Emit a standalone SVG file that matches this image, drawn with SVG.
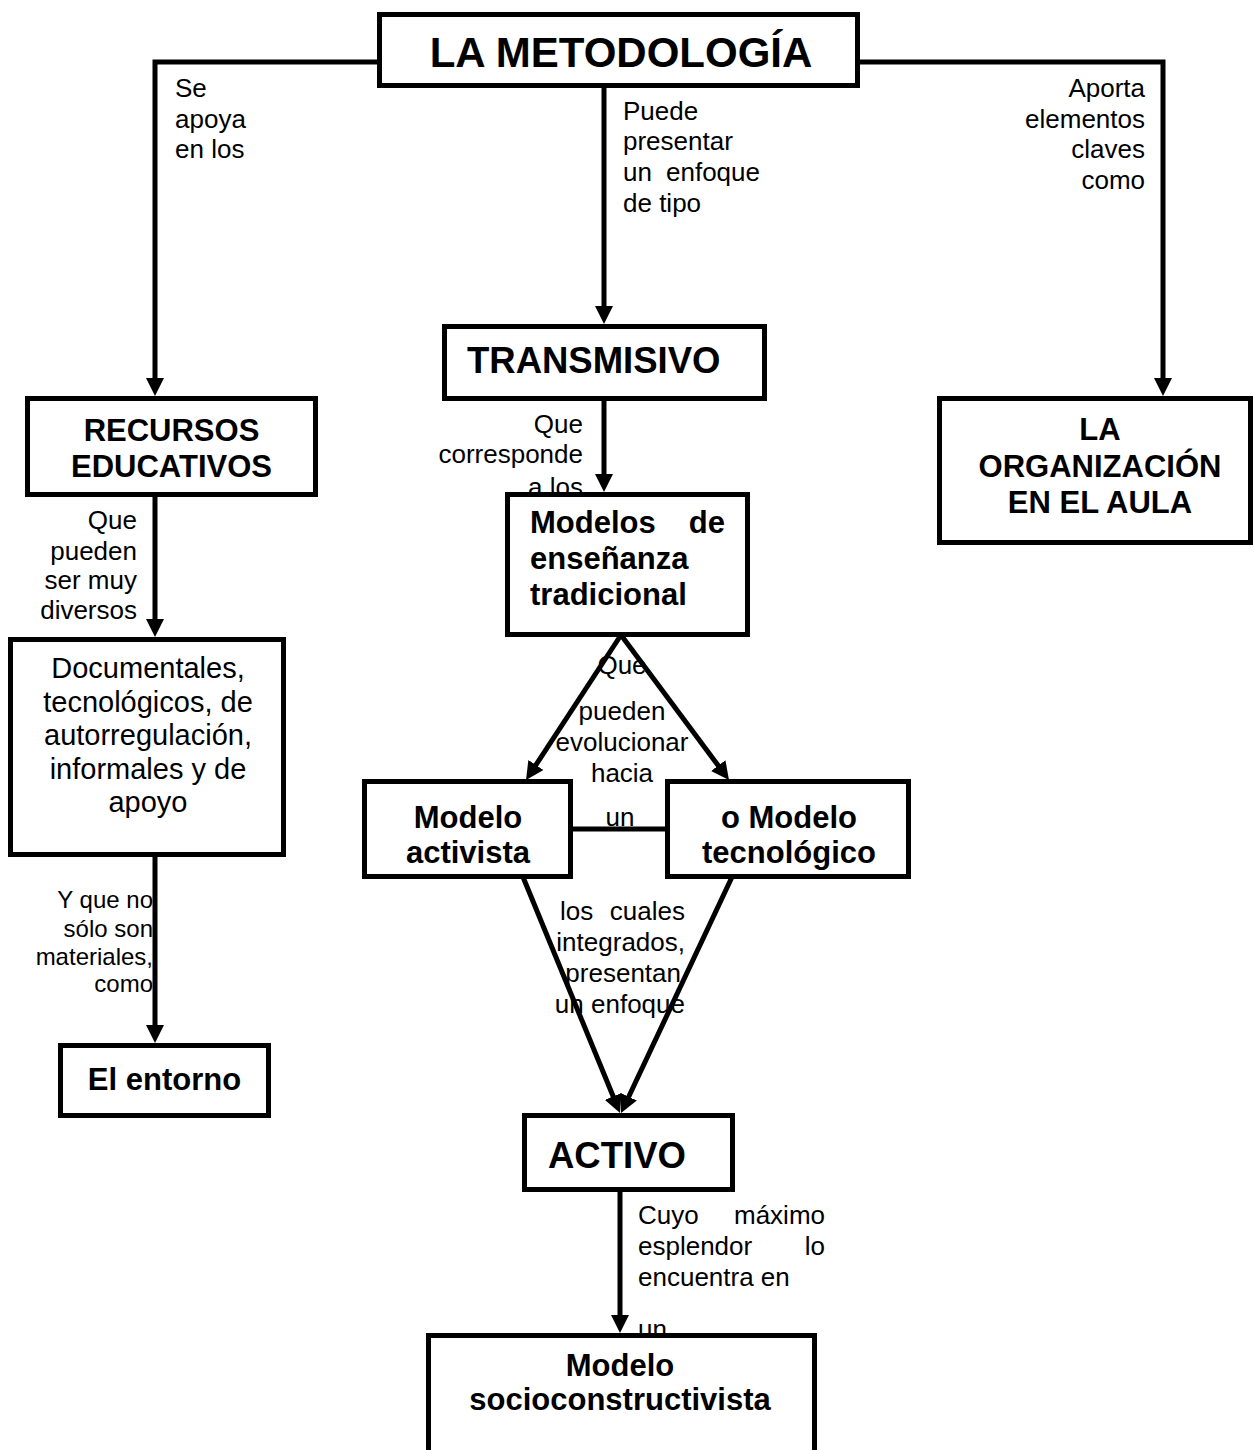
<svg xmlns="http://www.w3.org/2000/svg" width="1254" height="1450" viewBox="0 0 1254 1450">
<style>
.bx{fill:#fff;stroke:#000;stroke-width:5}
.ln{fill:none;stroke:#000;stroke-width:5;stroke-linejoin:miter}
.ar{marker-end:url(#ah)}
.lb{font-family:"Liberation Sans",Arial,sans-serif;font-size:26px;fill:#000}
.lb24{font-family:"Liberation Sans",Arial,sans-serif;font-size:24px;fill:#000}
.nt{font-family:"Liberation Sans",Arial,sans-serif;font-size:31px;font-weight:bold;fill:#000}
.nr{font-family:"Liberation Sans",Arial,sans-serif;font-size:29px;fill:#000}
.big{font-family:"Liberation Sans",Arial,sans-serif;font-size:36.5px;font-weight:bold;fill:#000}
.ttl{font-family:"Liberation Sans",Arial,sans-serif;font-size:42px;font-weight:bold;fill:#000}
.m{text-anchor:middle}
.e{text-anchor:end}
</style>
<defs>
<marker id="ah" markerUnits="userSpaceOnUse" markerWidth="18" markerHeight="18" viewBox="0 0 18 18" refX="8" refY="9" orient="auto">
<path d="M0,0 L18,9 L0,18 z" fill="#000"/>
</marker>
</defs>
<rect width="1254" height="1450" fill="#fff"/>
<g id="labels">
<text class="lb" x="175" y="97">Se</text>
<text class="lb" x="175" y="128">apoya</text>
<text class="lb" x="175" y="158">en los</text>
<text class="lb" x="623" y="120">Puede</text>
<text class="lb" x="623" y="150">presentar</text>
<text class="lb" x="623" y="181">un</text>
<text class="lb e" x="760" y="181">enfoque</text>
<text class="lb" x="623" y="212">de tipo</text>
<text class="lb e" x="1145" y="97">Aporta</text>
<text class="lb e" x="1145" y="128">elementos</text>
<text class="lb e" x="1145" y="158">claves</text>
<text class="lb e" x="1145" y="189">como</text>
<text class="lb e" x="137" y="529">Que</text>
<text class="lb e" x="137" y="560">pueden</text>
<text class="lb e" x="137" y="589">ser muy</text>
<text class="lb e" x="137" y="619">diversos</text>
<text class="lb24 e" x="153" y="908">Y que no</text>
<text class="lb24 e" x="153" y="937">sólo son</text>
<text class="lb24 e" x="153" y="965">materiales,</text>
<text class="lb24 e" x="153" y="992">como</text>
<text class="lb e" x="583" y="433">Que</text>
<text class="lb e" x="583" y="463">corresponde</text>
<text class="lb e" x="583" y="496">a los</text>
<text class="lb m" x="622" y="674">Que</text>
<text class="lb m" x="622" y="720">pueden</text>
<text class="lb m" x="622" y="751">evolucionar</text>
<text class="lb m" x="622" y="782">hacia</text>
<text class="lb m" x="620" y="826">un</text>
<text class="lb" x="560" y="920">los</text>
<text class="lb e" x="685" y="920">cuales</text>
<text class="lb e" x="685" y="951">integrados,</text>
<text class="lb e" x="681" y="982">presentan</text>
<text class="lb e" x="685" y="1013">un enfoque</text>
<text class="lb" x="638" y="1224">Cuyo</text>
<text class="lb e" x="825" y="1224">máximo</text>
<text class="lb" x="638" y="1255">esplendor</text>
<text class="lb e" x="825" y="1255">lo</text>
<text class="lb" x="638" y="1286">encuentra en</text>
<text class="lb" x="638" y="1338">un</text>
</g>
<g id="connectors">
<path class="ln ar" d="M380,62 H155 V386"/>
<path class="ln ar" d="M604,88 V314"/>
<path class="ln ar" d="M858,62 H1163 V386"/>
<path class="ln ar" d="M155,497 V627"/>
<path class="ln ar" d="M604,400 V482"/>
<path class="ln ar" d="M621,635 L531.5,771.7"/>
<path class="ln ar" d="M621,635 L723,772"/>
<path class="ln" d="M571,829 H667"/>
<path class="ln ar" d="M523,877 L616.2,1103.8"/>
<path class="ln ar" d="M732,877 L625.3,1104"/>
<path class="ln ar" d="M620,1192 V1323"/>
<path class="ln ar" d="M155,857 V1033"/>
</g>
<g id="n-metodologia">
<rect class="bx" x="379.5" y="14.5" width="478" height="71"/>
<text class="ttl m" x="621" y="67">LA METODOLOGÍA</text>
</g>
<g id="n-recursos">
<rect class="bx" x="27.5" y="398.5" width="288" height="96"/>
<text class="nt m" x="171.5" y="441">RECURSOS</text>
<text class="nt m" x="171.5" y="477">EDUCATIVOS</text>
</g>
<g id="n-documentales">
<rect class="bx" x="10.5" y="639.5" width="273" height="215"/>
<text class="nr m" x="148" y="678">Documentales,</text>
<text class="nr m" x="148" y="712">tecnológicos, de</text>
<text class="nr m" x="148" y="745">autorregulación,</text>
<text class="nr m" x="148" y="779">informales y de</text>
<text class="nr m" x="148" y="812">apoyo</text>
</g>
<g id="n-entorno">
<rect class="bx" x="60.5" y="1045.5" width="208" height="70"/>
<text class="nt m" x="164.5" y="1090">El entorno</text>
</g>
<g id="n-transmisivo">
<rect class="bx" x="444.5" y="326.5" width="320" height="72"/>
<text class="big" x="467" y="373">TRANSMISIVO</text>
</g>
<g id="n-organizacion">
<rect class="bx" x="939.5" y="398.5" width="311" height="144"/>
<text class="nt m" x="1100" y="440">LA</text>
<text class="nt m" x="1100" y="477">ORGANIZACIÓN</text>
<text class="nt m" x="1100" y="513">EN EL AULA</text>
</g>
<g id="n-modelos">
<rect class="bx" x="507.5" y="494.5" width="240" height="140"/>
<text class="nt" x="530" y="533">Modelos</text>
<text class="nt e" x="725" y="533">de</text>
<text class="nt" x="530" y="569">enseñanza</text>
<text class="nt" x="530" y="605">tradicional</text>
</g>
<g id="n-activista">
<rect class="bx" x="364.5" y="781.5" width="206" height="95"/>
<text class="nt m" x="468" y="828">Modelo</text>
<text class="nt m" x="468" y="863">activista</text>
</g>
<g id="n-tecnologico">
<rect class="bx" x="667.5" y="781.5" width="241" height="95"/>
<text class="nt m" x="789" y="828">o Modelo</text>
<text class="nt m" x="789" y="863">tecnológico</text>
</g>
<g id="n-activo">
<rect class="bx" x="524.5" y="1115.5" width="208" height="74"/>
<text class="big" x="548" y="1168">ACTIVO</text>
</g>
<g id="n-socio">
<rect class="bx" x="428.5" y="1335.5" width="386" height="140"/>
<text class="nt m" x="620" y="1376">Modelo</text>
<text class="nt m" x="620" y="1410">socioconstructivista</text>
</g>
</svg>
